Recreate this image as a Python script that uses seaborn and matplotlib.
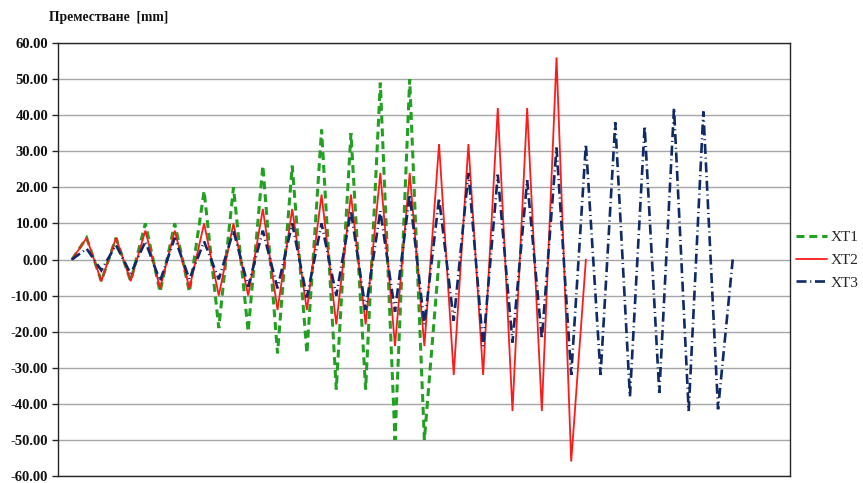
import numpy as np
import pandas as pd
import matplotlib
matplotlib.use("Agg")
import matplotlib.pyplot as plt
import seaborn as sns
from matplotlib.lines import Line2D
from matplotlib.ticker import FixedLocator, FuncFormatter, NullLocator

series_names = ["XT1", "XT2", "XT3"]
xt1 = [0, 6, -6, 6, -6, 10, -9, 10, -9, 19, -19, 20, -20, 26, -26, 26, -26,
       36, -36, 35, -36, 49, -50, 50, -50, 0]
xt2 = [0, 6, -6, 6, -6, 8, -8, 8, -8, 10, -10, 10, -10, 14, -14, 14, -14,
       18, -18, 18, -18, 24, -24, 24, -24, 32, -32, 32, -32, 42, -42, 42, -42,
       56, -56, 0]
xt3 = [0, 3, -3, 4, -4, 5, -6, 6, -5.5, 5, -5.5, 8, -7.5, 8, -8, 10, -10.5,
       10, -10, 13.5, -14, 13.5, -14.5, 18, -18, 17, -17, 24, -24, 23.5, -23,
       22, -22, 31, -32, 32, -32, 38, -38, 37, -37, 42, -42, 41, -41.5, 0]
y_ticks = [-60, -50, -40, -30, -20, -10, 0, 10, 20, 30, 40, 50, 60]
y_title = "Преместване  [mm]"

sns.set_style("white")
plt.rcParams["font.family"] = ["Liberation Serif", "DejaVu Serif"]

fig = plt.figure(figsize=(8.63, 4.83), dpi=100)
ax = fig.add_axes([58 / 863, 1 - 476 / 483, (790 - 58) / 863, (476 - 43) / 483])

colors = {"XT1": "#22a022", "XT2": "#ff1a1a", "XT3": "#102a66"}
widths = {"XT1": 2.2, "XT2": 1.3, "XT3": 1.9}
dashes = {"XT1": (2.6, 1.6), "XT2": None, "XT3": (3.8, 1.4, 0.4, 1.4)}

data = {"XT1": xt1, "XT2": xt2, "XT3": xt3}
for name in series_names:
    vals = data[name]
    df = pd.DataFrame({"i": np.arange(len(vals)), "v": vals})
    sns.lineplot(data=df, x="i", y="v", ax=ax, color=colors[name],
                 linewidth=widths[name], legend=False, zorder=3)
    ln = ax.lines[-1]
    if dashes[name] is not None:
        ln.set_dashes(dashes[name])
    ln.set_solid_joinstyle("miter")
    ln.set_dash_joinstyle("miter")

ax.set_xlim(-0.95, 48.9)
ax.set_ylim(-60, 60)
ax.yaxis.set_major_locator(FixedLocator(y_ticks))
ax.yaxis.set_major_formatter(FuncFormatter(lambda v, p: f"{v:.2f}"))
ax.xaxis.set_major_locator(NullLocator())
ax.set_xlabel("")
ax.set_ylabel("")

ax.grid(axis="y", color="#a6a6a6", linewidth=1.0)
ax.grid(axis="x", visible=False)
ax.set_axisbelow(True)
for s in ax.spines.values():
    s.set_visible(True)
    s.set_color("#262626")
    s.set_linewidth(1.0)

ax.tick_params(axis="y", which="major", direction="out", length=4, width=1,
               color="#262626", pad=3, left=True)
for lbl in ax.get_yticklabels():
    lbl.set_fontweight("bold")
    lbl.set_fontsize(10.5)
    lbl.set_color("#111111")

fig.text(49 / 863, 1 - 18 / 483, y_title, fontsize=9.8, fontweight="bold",
         ha="left", va="center", color="#111111")

handles = []
for name in series_names:
    h = Line2D([0], [0], color=colors[name], linewidth=widths[name])
    if dashes[name] is not None:
        h.set_dashes(dashes[name])
    handles.append(h)
fig.legend(handles, series_names, loc="center left",
           bbox_to_anchor=(796 / 863, 1 - 260 / 483), frameon=False,
           fontsize=11, handlelength=2.0, handletextpad=0.3,
           labelspacing=0.6, borderaxespad=0, borderpad=0)

fig.savefig("out.png", dpi=100)
